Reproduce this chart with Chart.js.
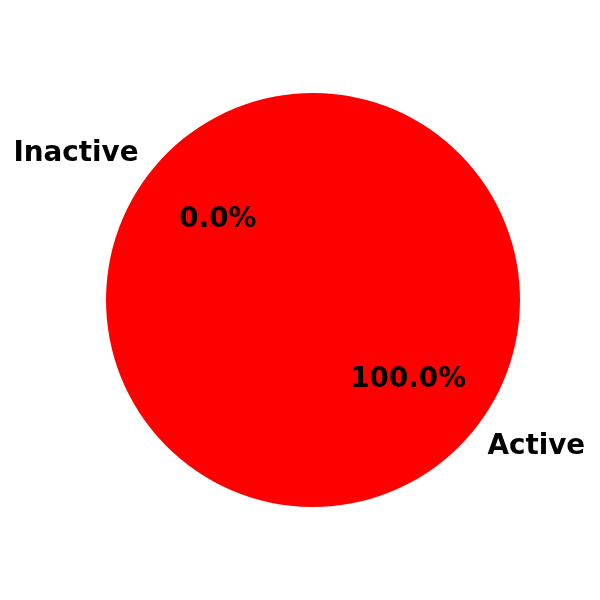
<!DOCTYPE html>
<html>
<head>
<meta charset="utf-8">
<script src="https://cdn.jsdelivr.net/npm/chart.js@4"></script>
<style>
  body { margin: 0; background: #fff; }
  #wrap { width: 600px; height: 600px; }
</style>
</head>
<body>
<div id="wrap"><canvas id="pie" width="600" height="600"></canvas></div>
<script>
const labels = ["Active", "Inactive"];
const counts = [100, 0];
const colors = ["#ff0000", "#008000"];

// matplotlib-style labels: name at 1.1r, percentage at 0.6r
const pieLabels = {
  id: "pieLabels",
  afterDatasetsDraw(chart) {
    const ctx = chart.ctx;
    const meta = chart.getDatasetMeta(0);
    const total = counts.reduce((a, b) => a + b, 0);
    ctx.save();
    ctx.fillStyle = "#000";
    ctx.font = "bold 27.8px 'DejaVu Sans'";
    ctx.textBaseline = "middle";
    meta.data.forEach((arc, i) => {
      const p = arc.getProps(["x", "y", "startAngle", "endAngle", "outerRadius"], true);
      const mid = (p.startAngle + p.endAngle) / 2;
      const cx = Math.cos(mid), cy = Math.sin(mid);
      const lx = p.x + cx * p.outerRadius * 1.1;
      const ly = p.y + cy * p.outerRadius * 1.1;
      ctx.textAlign = cx >= 0 ? "left" : "right";
      ctx.fillText(labels[i], lx, ly);
      ctx.textAlign = "center";
      const pct = (counts[i] / total * 100).toFixed(1) + "%";
      ctx.fillText(pct, p.x + cx * p.outerRadius * 0.6, p.y + cy * p.outerRadius * 0.6);
    });
    ctx.restore();
  }
};

new Chart(document.getElementById("pie").getContext("2d"), {
  type: "pie",
  data: {
    labels: labels,
    datasets: [{
      data: counts,
      backgroundColor: colors,
      borderWidth: 0
    }]
  },
  options: {
    responsive: false,
    animation: false,
    rotation: -50,
    layout: { padding: { left: 106, right: 80, top: 93, bottom: 93 } },
    plugins: {
      legend: { display: false },
      tooltip: { enabled: false }
    }
  },
  plugins: [pieLabels]
});
</script>
</body>
</html>
